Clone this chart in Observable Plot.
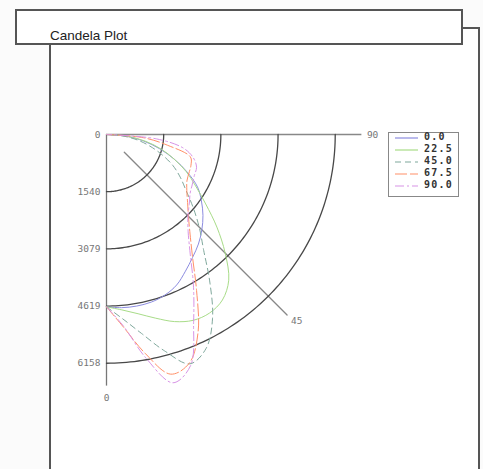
<!DOCTYPE html>
<html><head><meta charset="utf-8">
<script src="https://cdn.jsdelivr.net/npm/d3@7"></script>
<script src="https://cdn.jsdelivr.net/npm/@observablehq/plot@0.6"></script>
<style>
html,body{margin:0;padding:0;background:#fbfbfb;width:483px;height:469px;overflow:hidden;}
#wrap{position:relative;width:483px;height:469px;}
#panel{position:absolute;left:49px;top:27px;width:431px;height:460px;border-left:2px solid #555;border-right:2px solid #555;border-top:2px solid #555;background:#fff;box-sizing:border-box}
#titlebar{position:absolute;left:15px;top:9px;width:448px;height:36px;border:2px solid #555;background:#fff;box-sizing:border-box;font:13.5px "Liberation Sans",Arial,sans-serif;color:#222}
#titlebar span{position:absolute;left:33px;top:17px}
#chart{position:absolute;left:0;top:0}
#legend{position:absolute;left:388px;top:132px;width:71px;height:65px;border:1px solid #888;box-sizing:border-box;background:#fff}
.lrow{position:absolute;left:6px;height:12px;width:62px}
.lrow svg{position:absolute;left:0;top:0}
.lrow span{position:absolute;left:29px;top:-1px;font:bold 10px "DejaVu Sans Mono",monospace;letter-spacing:1.2px;color:#333;line-height:12px}
</style></head>
<body><div id="wrap">
<div id="panel"></div>
<div id="chart"></div>
<div id="titlebar"><span>Candela Plot</span></div>
<div id="legend"></div>
</div>
<script>
// Vertical angles (gamma, degrees from nadir)
const gammaAngles = [0,5,10,15,20,25,30,35,40,45,50,55,60,65,70,75,80,85,90];
// C-plane names
const planes = ["0.0","22.5","45.0","67.5","90.0"];
// Candela values per C-plane
const cd_00  = [4640,4680,4690,4670,4600,4470,4250,4040,3850,3630,3390,3120,2830,2400,1940,1480,1020,540,0];
const cd_225 = [4640,4740,4900,5120,5360,5520,5550,5440,5120,4520,3880,3260,2770,2370,1940,1530,1080,540,0];
const cd_450 = [4640,4980,5440,6030,6570,6350,5710,4850,4070,3530,3040,2610,2290,1970,1590,1210,840,430,0];
const cd_675 = [4640,5200,5980,6680,6540,5840,4850,4040,3500,3120,2850,2640,2500,2450,2420,2340,1670,1000,0];
const cd_900 = [4640,5170,6110,6920,6620,5550,4680,3930,3420,3100,2910,2750,2670,2610,2580,2420,2100,1350,0];
// Radial tick values and labels
const tickValues = [0,1540,3079,4619,6158];
const tickLabels = ["0","1540","3079","4619","6158"];
const arcValues = [1540,3079,4619,6158];
const angleLabels = ["0","45","90"];
const axisMax = 6774;

// styles (kept separate from data)
const planeColors = ["#8c8ce0","#a8dc88","#7fa89c","#ff9068","#d894e6"];
const planeDash = [null,null,"6,4","12,3","9,3,2,3"];

const planeValues = [cd_00,cd_225,cd_450,cd_675,cd_900];
const rows = planes.flatMap((p,i)=>gammaAngles.map((g,j)=>({plane:p,gamma:g,cd:planeValues[i][j]})));
const rad = a => a*Math.PI/180;
const px = d => d.cd*Math.sin(rad(d.gamma));
const py = d => d.cd*Math.cos(rad(d.gamma));

const arcRows = arcValues.flatMap(t=>d3.range(0,90.5,1).map(a=>({t,a})));
const diag = [{r:axisMax*0.1,a:45},{r:axisMax*1.015,a:45}];

const W = 483, H = 469;
const mL = 106, mT = 134;
const span = axisMax*57.2/1540;

const fontMono = "DejaVu Sans Mono, monospace";
const chart = Plot.plot({
  width: W, height: H,
  marginLeft: mL, marginTop: mT,
  marginRight: W-mL-span, marginBottom: H-mT-span,
  style:{background:"transparent", overflow:"visible"},
  x:{domain:[0,axisMax], axis:null},
  y:{domain:[0,axisMax], reverse:true, axis:null},
  marks:[
    Plot.ruleY([0],{x1:0,x2:axisMax*1.015,stroke:"#888",strokeWidth:1.3}),
    Plot.ruleX([0],{y1:0,y2:axisMax,stroke:"#777",strokeWidth:1.3}),
    Plot.line(diag,{x:d=>d.r*Math.sin(rad(d.a)),y:d=>d.r*Math.cos(rad(d.a)),stroke:"#888",strokeWidth:1.3}),
    Plot.line(arcRows,{x:d=>d.t*Math.sin(rad(d.a)),y:d=>d.t*Math.cos(rad(d.a)),z:"t",stroke:"#484848",strokeWidth:1.3}),
    ...planes.map((p,i)=>Plot.line(rows.filter(r=>r.plane===p),{x:px,y:py,stroke:planeColors[i],strokeDasharray:planeDash[i],strokeWidth:1,curve:"catmull-rom"})),
    Plot.text(tickValues,{x:0,y:d=>d,text:(d,i)=>tickLabels[i],dx:-6,textAnchor:"end",fill:"#777",fontSize:9.5,fontFamily:fontMono}),
    Plot.text([angleLabels[0]],{x:0,y:axisMax,dy:12,text:d=>d,fill:"#777",fontSize:9.5,fontFamily:fontMono}),
    Plot.text([angleLabels[2]],{x:axisMax*1.015,y:0,dx:5,textAnchor:"start",text:d=>d,fill:"#777",fontSize:9.5,fontFamily:fontMono}),
    Plot.text([angleLabels[1]],{x:axisMax*1.015*Math.SQRT1_2,y:axisMax*1.015*Math.SQRT1_2,dx:4,dy:6,textAnchor:"start",text:d=>d,fill:"#777",fontSize:9.5,fontFamily:fontMono})
  ]
});
document.getElementById("chart").appendChild(chart);

// legend
const leg = document.getElementById("legend");
planes.forEach((p,i)=>{
  const row = document.createElement("div");
  row.className="lrow";
  row.style.top = (i*12 - 1) + "px";
  row.innerHTML = `<svg width="28" height="12"><line x1="0" x2="23" y1="6" y2="6" stroke="${planeColors[i]}" stroke-width="1.2" ${planeDash[i]?`stroke-dasharray="${planeDash[i]}"`:""}/></svg><span>${p}</span>`;
  leg.appendChild(row);
});
</script>
</body></html>
